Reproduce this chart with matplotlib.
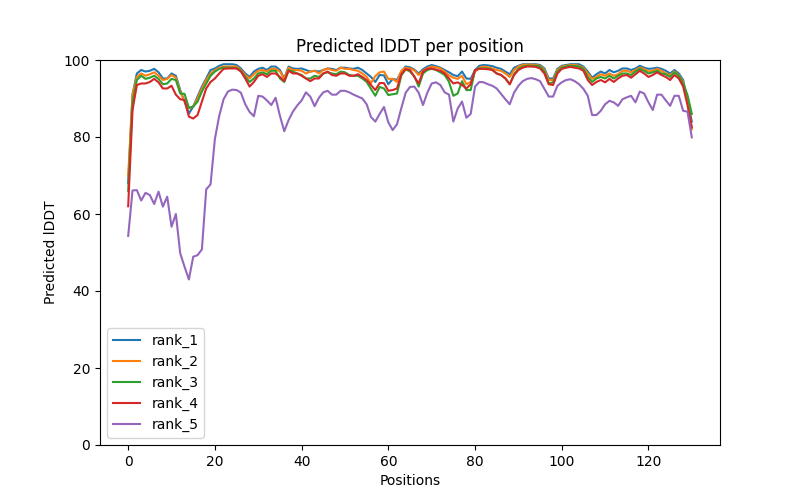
import matplotlib
matplotlib.use("Agg")
import matplotlib.pyplot as plt
import numpy as np

# predicted lDDT per residue
rank_1 = [
    68.0, 91.0, 96.5, 97.4, 97.0, 97.2, 97.7, 96.8, 95.2, 95.2,
    96.5, 95.9, 92.2, 89.2, 86.1, 87.9, 90.5, 93.1, 95.2, 97.4,
    97.8, 98.5, 98.9, 98.9, 98.9, 98.7, 97.8, 96.5, 95.6, 97.0,
    97.7, 98.0, 97.4, 98.3, 98.3, 97.4, 95.2, 98.3, 97.8, 97.7,
    97.8, 97.4, 97.0, 97.2, 97.0, 97.4, 97.8, 97.7, 97.4, 98.0,
    98.0, 97.8, 97.7, 98.0, 97.4, 96.5, 95.6, 94.3, 96.1, 96.0,
    93.7, 95.1, 94.8, 97.0, 98.3, 98.1, 97.5, 96.5, 97.6, 98.3,
    98.7, 98.4, 98.0, 97.4, 96.8, 96.1, 95.8, 97.0, 95.2, 95.1,
    97.4, 98.5, 98.7, 98.6, 98.4, 98.0, 97.7, 97.0, 96.3, 98.0,
    98.5, 98.9, 98.9, 98.9, 98.9, 98.7, 97.8, 95.2, 95.2, 97.7,
    98.5, 98.7, 98.9, 98.9, 98.9, 98.3, 97.0, 95.4, 96.3, 97.0,
    96.5, 97.4, 96.8, 97.2, 97.8, 97.8, 97.4, 97.8, 98.5, 98.0,
    97.7, 97.8, 98.0, 97.7, 97.2, 96.5, 97.4, 96.5, 94.8, 89.6,
    84.0,
]
rank_2 = [
    70.0, 91.0, 95.6, 96.5, 95.9, 96.3, 96.8, 95.9, 94.8, 95.1,
    96.1, 95.4, 91.8, 89.2, 87.4, 87.9, 90.0, 92.6, 94.8, 96.5,
    97.4, 98.0, 98.3, 98.3, 98.3, 98.3, 97.4, 96.1, 95.2, 96.3,
    97.2, 97.4, 97.0, 97.7, 97.7, 97.0, 95.1, 98.0, 97.4, 97.4,
    97.2, 96.5, 97.0, 97.2, 96.5, 97.4, 97.8, 97.4, 97.2, 98.0,
    97.7, 97.7, 97.4, 97.2, 96.5, 95.6, 94.0, 95.8, 96.8, 97.0,
    95.1, 95.1, 94.3, 97.2, 98.0, 97.8, 97.3, 96.1, 97.2, 97.9,
    98.3, 98.1, 97.8, 97.0, 96.0, 95.4, 95.1, 95.9, 93.7, 94.3,
    97.0, 98.0, 98.3, 98.1, 97.8, 97.4, 97.2, 96.5, 95.6, 97.4,
    98.3, 98.7, 98.8, 98.8, 98.7, 98.5, 97.4, 94.8, 94.8, 97.4,
    98.3, 98.5, 98.7, 98.7, 98.5, 98.0, 96.5, 95.1, 95.6, 96.3,
    95.9, 96.5, 95.9, 96.3, 97.2, 97.2, 96.8, 97.4, 98.0, 97.7,
    97.0, 97.2, 97.7, 97.2, 96.5, 96.1, 97.0, 96.1, 94.3, 89.2,
    82.0,
]
rank_3 = [
    66.0, 89.0, 94.8, 95.9, 95.1, 95.4, 95.9, 95.1, 93.7, 93.9,
    95.1, 94.8, 91.3, 91.2, 87.6, 87.9, 89.2, 91.8, 93.9, 95.9,
    97.0, 97.7, 98.0, 98.0, 98.0, 97.9, 97.2, 95.6, 94.3, 95.2,
    96.5, 96.8, 96.3, 97.2, 97.2, 95.2, 94.3, 97.4, 97.0, 96.5,
    96.1, 95.2, 95.2, 95.9, 95.6, 96.5, 96.8, 96.5, 96.3, 97.0,
    96.8, 96.1, 95.9, 95.9, 95.2, 94.3, 92.5, 90.7, 93.0, 92.6,
    90.9, 91.1, 91.3, 96.0, 97.6, 97.0, 95.8, 93.1, 96.5, 97.4,
    97.7, 97.4, 96.8, 96.1, 94.3, 90.7, 91.3, 94.5, 92.2, 92.2,
    97.4, 97.8, 97.8, 97.8, 97.4, 96.5, 96.1, 95.2, 93.7, 96.3,
    97.7, 98.3, 98.5, 98.5, 98.5, 98.3, 97.0, 93.9, 94.2, 97.0,
    98.0, 98.3, 98.5, 98.4, 98.3, 97.7, 95.6, 94.3, 95.2, 95.6,
    95.2, 95.9, 95.2, 95.9, 96.5, 96.5, 96.1, 97.0, 97.7, 97.2,
    96.5, 96.8, 97.2, 96.5, 96.3, 95.6, 96.8, 95.9, 93.9, 90.9,
    86.0,
]
rank_4 = [
    62.0, 87.0, 93.5, 93.9, 93.9, 94.3, 95.1, 94.2, 92.6, 92.6,
    93.3, 91.0, 89.8, 89.6, 85.3, 84.8, 85.7, 89.2, 92.6, 94.3,
    95.2, 96.5, 97.7, 97.8, 97.8, 97.8, 97.0, 95.2, 93.1, 94.3,
    95.9, 96.3, 95.6, 96.5, 96.5, 95.6, 94.5, 97.2, 96.5, 96.5,
    95.9, 95.2, 94.5, 95.2, 95.2, 96.5, 97.0, 96.1, 95.9, 96.5,
    96.5, 95.9, 95.9, 96.3, 95.6, 94.8, 93.5, 92.2, 94.0, 94.0,
    92.0, 92.2, 92.6, 96.3, 97.6, 97.4, 95.6, 93.9, 97.0, 97.7,
    97.8, 97.5, 97.2, 96.5, 95.2, 93.9, 94.2, 93.5, 92.6, 93.7,
    97.4, 97.7, 97.7, 97.6, 97.4, 96.5, 96.1, 95.2, 93.7, 96.1,
    97.4, 98.0, 98.3, 98.3, 98.2, 97.8, 96.5, 93.7, 93.5, 96.5,
    97.7, 98.0, 98.2, 98.0, 97.8, 97.2, 94.8, 93.5, 94.3, 94.8,
    94.2, 95.1, 94.3, 95.2, 95.9, 96.1, 95.4, 96.3, 97.2, 96.5,
    95.6, 96.1, 96.8, 96.1, 95.6, 94.8, 96.1, 95.2, 93.1, 88.3,
    82.5,
]
rank_5 = [
    54.3, 66.1, 66.2, 63.5, 65.5, 64.9, 62.6, 65.8, 61.9, 64.5,
    56.7, 60.0, 49.8, 46.3, 43.0, 48.9, 49.3, 50.8, 66.4, 67.7,
    79.5, 85.5, 89.8, 91.8, 92.3, 92.2, 91.5, 88.5, 86.5, 85.4,
    90.7, 90.5, 89.5, 88.3, 90.2, 85.5, 81.5, 84.4, 86.6, 88.2,
    89.5, 91.6, 90.5, 88.0, 90.2, 91.6, 92.0, 91.0, 91.0, 92.0,
    92.0, 91.6, 91.0, 90.5, 90.0, 88.5, 85.2, 84.0, 86.0, 87.8,
    83.8, 81.8, 83.3, 87.5, 91.5, 93.0, 93.1, 91.5, 88.3, 91.5,
    93.9, 94.2, 93.5, 91.6, 91.0, 84.0, 87.4, 89.2, 85.0, 86.0,
    93.1, 94.3, 94.2, 93.7, 93.3, 92.6, 91.2, 89.8, 88.5, 91.5,
    93.3, 94.5, 95.1, 95.3, 95.0, 94.5, 92.5, 90.5, 90.5, 93.3,
    94.2, 94.8, 95.0, 94.5, 93.7, 92.5, 90.7, 85.7, 85.7, 86.8,
    88.5, 89.4, 89.0, 88.1, 89.8, 90.3, 90.7, 89.0, 91.8, 91.3,
    89.0, 87.0, 91.0, 91.0, 89.5, 88.1, 90.7, 90.7, 86.8, 86.6,
    79.9,
]

series = {"rank_1": rank_1, "rank_2": rank_2, "rank_3": rank_3,
          "rank_4": rank_4, "rank_5": rank_5}

fig, ax = plt.subplots(figsize=(8, 5), dpi=100)
for name, vals in series.items():
    ax.plot(np.arange(len(vals)), vals, label=name)

ax.set_ylim(0, 100)
ax.set_title("Predicted lDDT per position")
ax.set_xlabel("Positions")
ax.set_ylabel("Predicted lDDT")
ax.legend(loc="lower left")

fig.savefig("out.png", dpi=100)
